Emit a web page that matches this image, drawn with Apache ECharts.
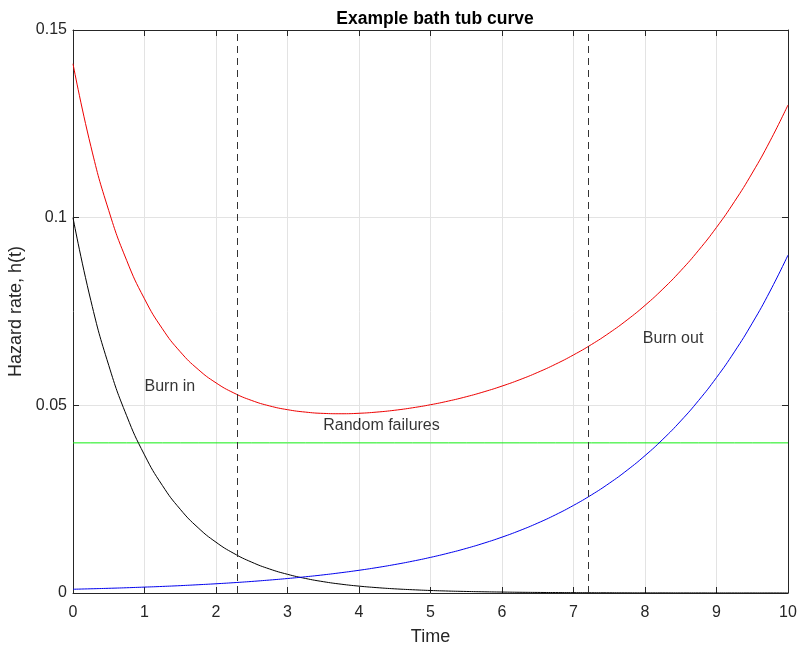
<!DOCTYPE html>
<html>
<head>
<meta charset="utf-8">
<script src="https://cdn.jsdelivr.net/npm/echarts@6/dist/echarts.min.js"></script>
<style>html,body{margin:0;padding:0;background:#fff;}#c{width:801px;height:648px;}</style>
</head>
<body>
<div id="c"></div>
<script>
const time = [0,0.25,0.5,0.75,1,1.25,1.5,1.75,2,2.25,2.5,2.75,3,3.25,3.5,3.75,4,4.25,4.5,4.75,5,5.25,5.5,5.75,6,6.25,6.5,6.75,7,7.25,7.5,7.75,8,8.25,8.5,8.75,9,9.25,9.5,9.75,10];
const burnIn = [0.1,0.07788,0.06065,0.04724,0.03679,0.02865,0.02231,0.01738,0.01353,0.01054,0.00821,0.00639,0.00498,0.00388,0.00302,0.00235,0.00183,0.00143,0.00111,0.00087,0.00067,0.00052,0.00041,0.00032,0.00025,0.00019,0.00015,0.00012,0.00009,0.00007,0.00006,0.00004,0.00003,0.00003,0.00002,0.00002,0.00001,0.00001,0.00001,0.00001,0.00000];
const burnOut = [0.00100,0.00112,0.00125,0.00140,0.00157,0.00175,0.00196,0.00220,0.00246,0.00275,0.00308,0.00345,0.00386,0.00432,0.00483,0.00541,0.00605,0.00677,0.00758,0.00848,0.00949,0.01062,0.01188,0.01330,0.01488,0.01665,0.01863,0.02085,0.02334,0.02612,0.02923,0.03271,0.03660,0.04096,0.04584,0.05130,0.05740,0.06424,0.07189,0.08045,0.09002];
const randomFail = [0.04,0.04,0.04,0.04,0.04,0.04,0.04,0.04,0.04,0.04,0.04,0.04,0.04,0.04,0.04,0.04,0.04,0.04,0.04,0.04,0.04,0.04,0.04,0.04,0.04,0.04,0.04,0.04,0.04,0.04,0.04,0.04,0.04,0.04,0.04,0.04,0.04,0.04,0.04,0.04,0.04];
const total = [0.14100,0.11900,0.10190,0.08864,0.07836,0.07040,0.06427,0.05958,0.05599,0.05329,0.05129,0.04984,0.04884,0.04820,0.04785,0.04776,0.04788,0.04820,0.04869,0.04935,0.05016,0.05114,0.05229,0.05362,0.05513,0.05684,0.05878,0.06097,0.06343,0.06619,0.06929,0.07275,0.07663,0.08099,0.08586,0.09132,0.09741,0.10425,0.11190,0.12046,0.13002];
const boundaries = [2.3, 7.2];
const annotations = [
  {name:'Burn in', x:1, y:0.055},
  {name:'Random failures', x:3.5, y:0.0445},
  {name:'Burn out', x:7.97, y:0.0677}
];
const yTicks = ['0','0.05','0.1','0.15'];

const F = 'Liberation Sans, Arial, Helvetica, sans-serif';
const axisColor = '#262626';
const gridColor = '#e3e3e3';
function pairs(ys){ return time.map((t,i)=>[t, ys[i]]); }

const tick = {show:true, inside:true, length:6, lineStyle:{color:axisColor, width:1}};
const line = {show:true, onZero:false, lineStyle:{color:axisColor, width:1}};

const chart = echarts.init(document.getElementById('c'), null, {renderer:'canvas'});
chart.setOption({
  animation:false,
  backgroundColor:'#fff',
  title:{text:'Example bath tub curve', left:430, top:5, textAlign:'center',
    textStyle:{fontFamily:F, fontSize:17.5, fontWeight:'bold', color:'#000'}},
  grid:{left:73, right:13, top:30, bottom:55, outerBoundsMode:'none', containLabel:false},
  xAxis:[{
    type:'value', min:0, max:10, interval:1, position:'bottom',
    name:'Time', nameLocation:'middle', nameGap:35,
    nameTextStyle:{fontFamily:F, fontSize:18, color:axisColor},
    axisLine:line, axisTick:tick,
    axisLabel:{fontFamily:F, fontSize:16, color:axisColor, margin:12},
    splitLine:{show:true, lineStyle:{color:gridColor, width:1}}
  },{
    type:'value', min:0, max:10, interval:1, position:'top',
    axisLine:line, axisTick:tick,
    axisLabel:{show:false}, splitLine:{show:false}
  }],
  yAxis:[{
    type:'value', min:0, max:0.15, interval:0.05, position:'left',
    name:'Hazard rate, h(t)', nameLocation:'middle', nameGap:38,
    nameTextStyle:{fontFamily:F, fontSize:18, color:axisColor},
    axisLine:line, axisTick:tick,
    axisLabel:{fontFamily:F, fontSize:16, color:axisColor, margin:6,
      formatter:(v)=>yTicks[Math.round(v/0.05)]},
    splitLine:{show:true, lineStyle:{color:gridColor, width:1}}
  },{
    type:'value', min:0, max:0.15, interval:0.05, position:'right',
    axisLine:line, axisTick:tick,
    axisLabel:{show:false}, splitLine:{show:false}
  }],
  series:[
    {type:'line', name:'Random failures', data:pairs(randomFail), showSymbol:false, symbol:'none',
      lineStyle:{color:'#11ee11', width:1}, z:3,
      markLine:{silent:true, symbol:['none','none'], label:{show:false},
        lineStyle:{color:'#333', type:[7,5], width:1},
        data:boundaries.map(b=>({xAxis:b}))}},
    {type:'line', name:'Burn in', data:pairs(burnIn), smooth:true, showSymbol:false, symbol:'none',
      lineStyle:{color:'#000', width:1}, z:3},
    {type:'line', name:'Burn out', data:pairs(burnOut), smooth:true, showSymbol:false, symbol:'none',
      lineStyle:{color:'#0000ee', width:1}, z:3},
    {type:'line', name:'Total', data:pairs(total), smooth:true, showSymbol:false, symbol:'none',
      lineStyle:{color:'#ee0000', width:1}, z:3},
    {type:'scatter', name:'labels', symbolSize:0, silent:true,
      data:annotations.map(a=>({name:a.name, value:[a.x, a.y]})),
      label:{show:true, position:[0,0], align:'left', verticalAlign:'middle',
        formatter:(p)=>p.name, fontFamily:F, fontSize:16, color:'#000'}, z:5}
  ]
});
</script>
</body>
</html>
